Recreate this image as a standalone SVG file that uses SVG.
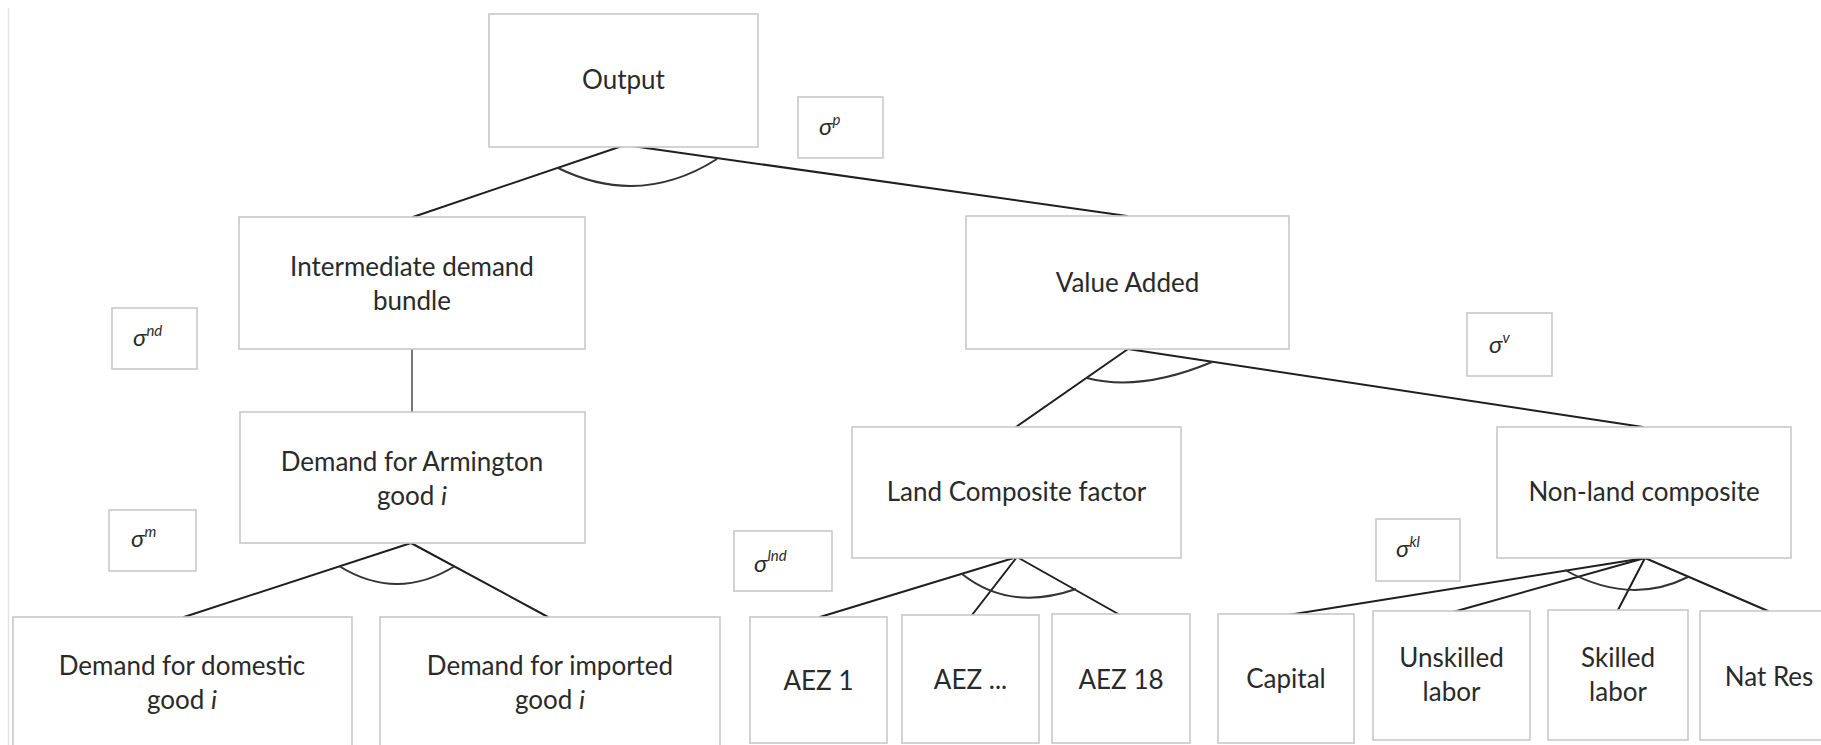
<svg xmlns="http://www.w3.org/2000/svg" width="1821" height="745" viewBox="0 0 1821 745">
  <style>
    .box { fill: #ffffff; stroke: #c8c8c8; stroke-width: 1.6; }
    .lbl { font-family: Lato, "Liberation Sans", sans-serif; font-size: 26px; fill: #2a2a2a; text-anchor: middle; }
    .sig { font-family: Lato, "Liberation Sans", sans-serif; font-style: italic; font-size: 24px; fill: #2a2a2a; }
    .sup { font-size: 15px; }
    .edge { fill: none; stroke: #1f1f1f; stroke-width: 2; stroke-linecap: round; }
    .thin { fill: none; stroke: #4a4a4a; stroke-width: 1.5; }
    .arc { fill: none; stroke: #333333; stroke-width: 2; }
  </style>

  <rect x="0" y="0" width="1821" height="745" fill="#ffffff"/>
  <line x1="8.5" y1="8" x2="8.5" y2="745" stroke="#e4e4e4" stroke-width="1.5"/>

  <!-- connectors and nesting arcs -->
  <g id="connectors">
    <line class="edge" x1="625" y1="145" x2="413" y2="217"/>
    <line class="edge" x1="625" y1="145" x2="1127" y2="216"/>
    <path class="arc" d="M558,168 Q640,208 717,159"/>

    <line class="thin" x1="412" y1="349" x2="412" y2="412"/>

    <line class="edge" x1="411" y1="543" x2="184" y2="617"/>
    <line class="edge" x1="411" y1="543" x2="548" y2="617"/>
    <path class="arc" d="M339,566 Q397,602 455,566"/>

    <line class="edge" x1="1128" y1="349" x2="1016" y2="427"/>
    <line class="edge" x1="1128" y1="349" x2="1643" y2="427"/>
    <path class="arc" d="M1087,378 Q1140,392 1212,362"/>

    <line class="edge" x1="1017" y1="557" x2="820" y2="617"/>
    <line class="edge" x1="1017" y1="557" x2="972" y2="615"/>
    <line class="edge" x1="1017" y1="557" x2="1120" y2="615"/>
    <path class="arc" d="M962,574 Q1010,612 1076,589"/>

    <line class="edge" x1="1645" y1="558" x2="1288" y2="615"/>
    <line class="edge" x1="1645" y1="558" x2="1453" y2="612"/>
    <line class="edge" x1="1645" y1="558" x2="1618" y2="610"/>
    <line class="edge" x1="1645" y1="558" x2="1768" y2="611"/>
    <path class="arc" d="M1565,570 Q1630,606 1688,577"/>
  </g>

  <!-- nodes -->
  <g id="output">
    <rect class="box" x="489" y="14" width="269" height="133"/>
    <text class="lbl" x="623.5" y="89">Output</text>
  </g>

  <g id="sigma-p">
    <rect class="box" x="798" y="97" width="85" height="61"/>
    <text class="sig" x="819" y="135">σ<tspan class="sup" dy="-10">p</tspan></text>
  </g>

  <g id="intermediate">
    <rect class="box" x="239" y="217" width="346" height="132"/>
    <text class="lbl" x="412" y="276">Intermediate demand</text>
    <text class="lbl" x="412" y="310">bundle</text>
  </g>

  <g id="sigma-nd">
    <rect class="box" x="112" y="308" width="85" height="61"/>
    <text class="sig" x="133" y="346">σ<tspan class="sup" dy="-10">nd</tspan></text>
  </g>

  <g id="armington">
    <rect class="box" x="240" y="412" width="345" height="131"/>
    <text class="lbl" x="412" y="471">Demand for Armington</text>
    <text class="lbl" x="412" y="505">good <tspan font-style="italic">i</tspan></text>
  </g>

  <g id="sigma-m">
    <rect class="box" x="109" y="510" width="87" height="61"/>
    <text class="sig" x="131" y="547">σ<tspan class="sup" dy="-10">m</tspan></text>
  </g>

  <g id="domestic">
    <rect class="box" x="13" y="617" width="339" height="140"/>
    <text class="lbl" x="182" y="675">Demand for domestic</text>
    <text class="lbl" x="182" y="709">good <tspan font-style="italic">i</tspan></text>
  </g>

  <g id="imported">
    <rect class="box" x="380" y="617" width="340" height="140"/>
    <text class="lbl" x="550" y="675">Demand for imported</text>
    <text class="lbl" x="550" y="709">good <tspan font-style="italic">i</tspan></text>
  </g>

  <g id="value-added">
    <rect class="box" x="966" y="216" width="323" height="133"/>
    <text class="lbl" x="1127.5" y="292">Value Added</text>
  </g>

  <g id="sigma-v">
    <rect class="box" x="1467" y="313" width="85" height="63"/>
    <text class="sig" x="1489" y="353">σ<tspan class="sup" dy="-10">v</tspan></text>
  </g>

  <g id="land">
    <rect class="box" x="852" y="427" width="329" height="131"/>
    <text class="lbl" x="1016.5" y="501">Land Composite factor</text>
  </g>

  <g id="sigma-lnd">
    <rect class="box" x="734" y="531" width="98" height="60"/>
    <text class="sig" x="754" y="572">σ<tspan class="sup" dy="-11">lnd</tspan></text>
  </g>

  <g id="non-land">
    <rect class="box" x="1497" y="427" width="294" height="131"/>
    <text class="lbl" x="1644" y="501">Non-land composite</text>
  </g>

  <g id="sigma-kl">
    <rect class="box" x="1376" y="519" width="84" height="62"/>
    <text class="sig" x="1396" y="557">σ<tspan class="sup" dy="-10">kl</tspan></text>
  </g>

  <g id="aez-1">
    <rect class="box" x="750" y="617" width="137" height="126"/>
    <text class="lbl" x="818.5" y="690">AEZ 1</text>
  </g>

  <g id="aez-mid">
    <rect class="box" x="902" y="615" width="137" height="128"/>
    <text class="lbl" x="970.5" y="689">AEZ ...</text>
  </g>

  <g id="aez-18">
    <rect class="box" x="1052" y="614" width="138" height="129"/>
    <text class="lbl" x="1121" y="689">AEZ 18</text>
  </g>

  <g id="capital">
    <rect class="box" x="1218" y="614" width="136" height="129"/>
    <text class="lbl" x="1286" y="688">Capital</text>
  </g>

  <g id="unskilled">
    <rect class="box" x="1373" y="611" width="157" height="129"/>
    <text class="lbl" x="1451.5" y="667">Unskilled</text>
    <text class="lbl" x="1451.5" y="701">labor</text>
  </g>

  <g id="skilled">
    <rect class="box" x="1548" y="610" width="140" height="130"/>
    <text class="lbl" x="1618" y="667">Skilled</text>
    <text class="lbl" x="1618" y="701">labor</text>
  </g>

  <g id="nat-res">
    <rect class="box" x="1700" y="611" width="140" height="129"/>
    <text class="lbl" x="1769" y="686">Nat Res</text>
  </g>
</svg>
